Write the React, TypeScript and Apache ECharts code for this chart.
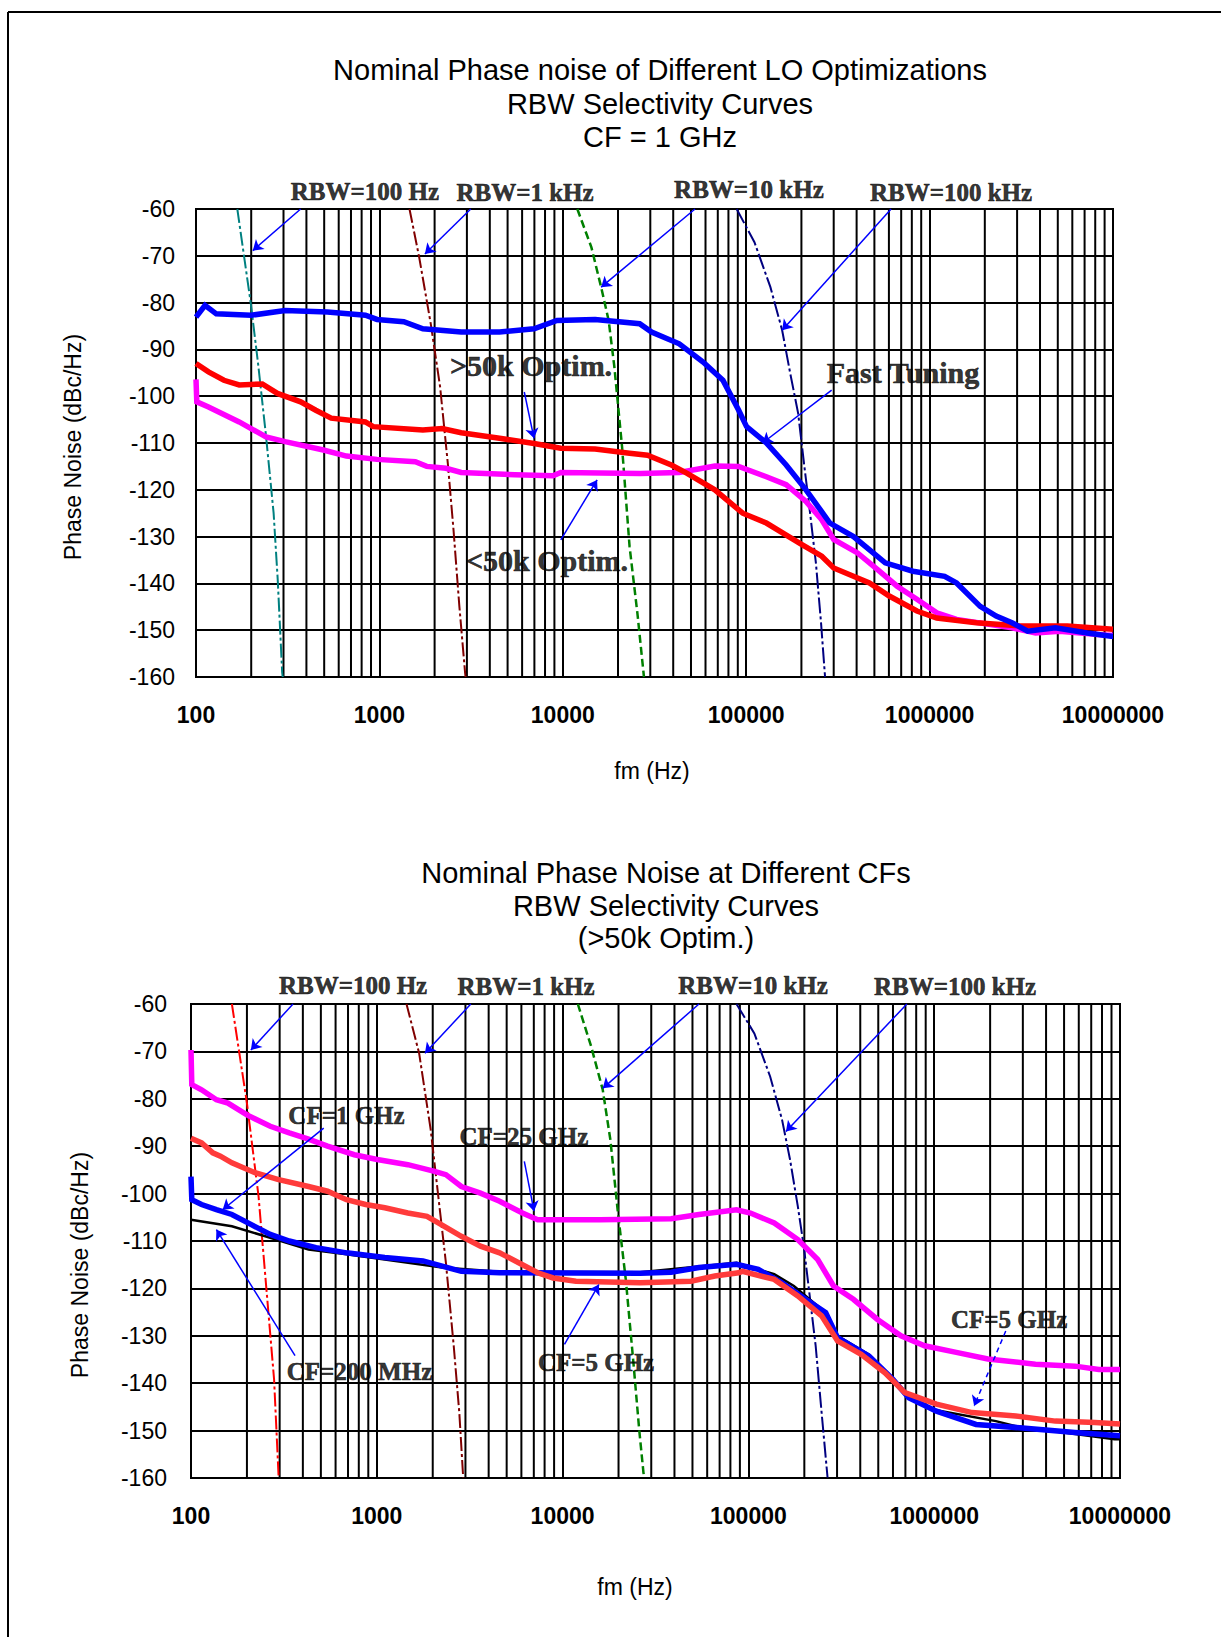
import React, { useEffect, useRef } from "react";
import * as echarts from "echarts";

// ---------- axes ----------
const xTickLabels = ["100", "1000", "10000", "100000", "1000000", "10000000"];
const xMin = 100;
const xMax = 10000000;
const yMin = -160;
const yMax = -60;
const yStep = 10;
const minorMultipliers = [2, 3, 4, 5, 6, 7, 8, 9];
const decades = [100, 1000, 10000, 100000, 1000000];

// ---------- top chart: LO optimizations (CF = 1 GHz) ----------
const topFastTuning: [number, number][] = [
  [100, -83.1], [112, -80.6], [129, -82.4], [200, -82.7], [306, -81.7], [520, -82], [839, -82.7],
  [971, -83.6], [1358, -84.1], [1726, -85.6], [2793, -86.3], [4519, -86.3], [6966, -85.6],
  [9290, -83.8], [15000, -83.6], [26242, -84.5], [30479, -86.3], [43152, -88.8], [58210, -92.7],
  [74645, -96.6], [90991, -103], [100462, -106.5], [128825, -110], [165196, -114.7], [211836, -120],
  [285759, -127.1], [384592, -130], [572796, -135.6], [810961, -137.4], [1207814, -138.5],
  [1402813, -139.9], [1887991, -144.9], [2306747, -147], [2812000, -148.4], [3427678, -150.2],
  [4853000, -149.5], [7227000, -150.6], [9750000, -151.3], [10000000, -151.3],
];
const topAbove50k: [number, number][] = [
  [100, -93], [117, -94.8], [142, -96.6], [172, -97.6], [230, -97.4], [278, -99.4], [372, -101.2],
  [450, -103], [546, -104.7], [839, -105.5], [925, -106.5], [1726, -107.2], [2198, -106.9],
  [2793, -107.8], [4519, -109], [6966, -110.1], [9750, -111.1], [15000, -111.3], [23121, -112.2],
  [28973, -112.6], [39084, -114.7], [47643, -116.5], [67453, -120], [95719, -125], [128825, -127.1],
  [201372, -131.7], [258226, -134.2], [299916, -136.7], [469894, -139.9], [602560, -142.7],
  [853067, -145.9], [1093956, -147.4], [1798871, -148.4], [3104560, -149.1], [5636000, -149.1],
  [10000000, -149.8],
];
const topBelow50k: [number, number][] = [
  [100, -96.4], [101, -101.2], [117, -102.3], [172, -105.5], [241, -108.7], [306, -109.7],
  [495, -111.5], [661, -112.8], [971, -113.5], [1570, -114], [1811, -115], [2307, -115.4],
  [2793, -116.3], [5470, -116.8], [8851, -117], [9750, -116.3], [26485, -116.5], [43152, -116.3],
  [67453, -114.9], [90991, -115], [128825, -117.2], [165196, -118.9], [211836, -122.5],
  [258226, -126.4], [299916, -130.6], [404576, -133.5], [518800, -137], [665273, -140.6],
  [853067, -143.4], [1093956, -146.3], [1402813, -147.7], [2812000, -149.5], [3784000, -150.6],
  [5105000, -150.2], [9268000, -151.1], [10000000, -151.1],
];
const topRbw100Hz: [number, number][] = [
  [168, -60], [199, -80.2], [219, -93.7], [241, -108.6], [265, -125], [279, -139.2], [295, -159], [297, -160],
];
const topRbw1k: [number, number][] = [
  [1459, -60], [1648, -70.3], [1905, -84.5], [2143, -98], [2360, -114.3], [2535, -128.5],
  [2729, -144.9], [2931, -159], [2950, -160],
];
const topRbw10k: [number, number][] = [
  [12000, -60], [14322, -68.2], [16181, -76.7], [17783, -83.8], [19099, -93.7], [21038, -110.8],
  [23121, -132.1], [25500, -146.3], [27700, -160],
];
const topRbw100k: [number, number][] = [
  [88716, -60], [110917, -67.1], [135519, -76.7], [157036, -85.9], [173780, -95.1], [191867, -103.6],
  [206538, -114.3], [222844, -124.9], [239883, -135.6], [255859, -148.4], [269153, -160],
];
const topLabelTexts = ["RBW=100 Hz", "RBW=1 kHz", "RBW=10 kHz", "RBW=100 kHz", ">50k Optim.", "Fast Tuning", "<50k Optim."];
const topLabelFreqs = [834, 6223, 103514, 1309182, 6714, 716143, 8204];
const topLabelValues = [-56.2, -56.4, -55.9, -56.4, -93.5, -95.0, -135.2];
const topLabelSizes = [25, 25, 25, 25, 30, 30, 30];
// [fromFreq, fromValue, toFreq, toValue]
const topArrows: number[][] = [
  [372, -60, 204, -68.9],
  [3148, -60, 1770, -69.6],
  [52602, -60, 16181, -76.7],
  [616595, -60, 157036, -85.9],
  [292415, -98.7, 122744, -110],
  [6166, -99.1, 6966, -109],
  [9750, -130.7, 15382, -117.9],
];

// ---------- bottom chart: different CFs (>50k Optim.) ----------
const botCf25G: [number, number][] = [
  [100, -69.7], [101, -77], [114, -78.1], [137, -80.2], [158, -80.9], [200, -83.4], [267, -85.8],
  [338, -87.2], [429, -88.5], [543, -90], [757, -91.8], [1005, -92.8], [1469, -93.9], [2046, -95.3],
  [2355, -96], [2851, -98.5], [3614, -99.9], [4581, -101.6], [6081, -104.1], [7345, -105.5],
  [15849, -105.5], [38371, -105.3], [54200, -104.4], [86298, -103.4], [102565, -104.1],
  [137721, -106.2], [184502, -109.7], [236048, -113.9], [287078, -119.5], [367282, -122.3],
  [493174, -126.5], [662217, -130], [887156, -132.1], [1315225, -133.5], [1945297, -134.9],
  [3507519, -136], [5727000, -136.4], [7691000, -137.1], [10000000, -137.1],
];
const botCf5G: [number, number][] = [
  [100, -88.3], [114, -89.3], [131, -91.4], [144, -92.1], [166, -93.5], [221, -95.6], [293, -97],
  [429, -98.5], [543, -99.5], [687, -101.3], [871, -102.3], [1104, -103], [1469, -104.1],
  [1862, -104.8], [2143, -106.2], [2851, -109], [3614, -111.1], [4581, -112.5], [6081, -115],
  [7345, -116.7], [8892, -117.8], [11803, -118.5], [26182, -118.8], [49091, -118.5], [65917, -117.4],
  [88512, -116.7], [92897, -116.4], [137721, -118.1], [184502, -121.6], [247742, -125.8],
  [301995, -131.1], [404576, -133.9], [543250, -137.8], [695024, -142], [1028016, -144.4],
  [1599558, -146.2], [2747894, -146.9], [4487454, -148], [7328000, -148.3], [10000000, -148.6],
];
const botCf1G: [number, number][] = [
  [100, -96.4], [101, -101.3], [114, -102.3], [137, -103.4], [166, -104.4], [210, -106.5],
  [267, -108.6], [338, -110], [471, -111.4], [687, -112.5], [1104, -113.5], [1774, -114.2],
  [2249, -115.3], [2851, -116.4], [4581, -116.7], [26182, -116.8], [38371, -116.6], [54200, -115.6],
  [86298, -114.9], [112980, -116], [151705, -118.8], [203704, -122.3], [260615, -125.1],
  [301995, -130.4], [446684, -134.3], [599791, -139.2], [729458, -143.1], [1028016, -145.9],
  [1678804, -148.7], [2884032, -149.4], [5727000, -150.4], [10000000, -151.1],
];
const botCf200M: [number, number][] = [
  [100, -105.5], [166, -106.9], [267, -109.3], [429, -111.8], [687, -112.8], [1104, -113.9],
  [2249, -115.6], [4581, -116.5], [26182, -116.6], [86298, -114.6], [137721, -117], [175792, -119.5],
  [247742, -124.4], [301995, -130], [446684, -134], [599791, -139], [729458, -143], [1028016, -145.7],
  [2147830, -148], [2747894, -149.1], [5727000, -150.7], [9354000, -151.8], [10000000, -151.8],
];
const botRbw100Hz: [number, number][] = [
  [166, -60], [200, -80.9], [231, -100.6], [261, -125.1], [280, -139.2], [296, -159.5], [297, -160],
];
const botRbw1k: [number, number][] = [
  [1445, -60], [1690, -70.4], [1950, -86.5], [2143, -100.6], [2355, -114.6], [2594, -132.1],
  [2780, -146.2], [2917, -159.9],
];
const botRbw10k: [number, number][] = [
  [12078, -60], [14256, -69], [16444, -78.1], [18072, -88.6], [19861, -104.1], [21878, -118.1],
  [24044, -135.6], [25823, -149.7], [27227, -158.8], [27500, -160],
];
const botRbw100k: [number, number][] = [
  [86298, -60], [107647, -66.2], [130918, -75.3], [151705, -84.4], [167494, -92.8], [184502, -102.7],
  [198609, -111.1], [213796, -121.6], [230144, -132.1], [247742, -146.2], [266686, -159.9],
];
const botLabelTexts = ["RBW=100 Hz", "RBW=1 kHz", "RBW=10 kHz", "RBW=100 kHz", "CF=1 GHz", "CF=25 GHz", "CF=200 MHz", "CF=5 GHz", "CF=5 GHz"];
const botLabelFreqs = [745, 6353, 105925, 1294196, 687, 6194, 807, 15136, 2529297];
const botLabelValues = [-56.0, -56.4, -56.0, -56.4, -83.5, -88.0, -137.6, -135.7, -126.5];
const botLabelSizes = [25, 25, 25, 25, 25, 25, 25, 25, 25];
const botArrows: number[][] = [
  [354, -60, 210, -69.7],
  [3206, -60, 1816, -70.4],
  [54200, -60, 16444, -77.8],
  [712853, -60, 159221, -86.9],
  [518, -86.2, 148, -103.4],
  [6223, -93.2, 7015, -103.7],
  [363, -134.2, 137, -107.6],
  [10233, -131.8, 15668, -119.2],
  [2426610, -129, 1640590, -144.8],
];
const botDashedArrow = [false, false, false, false, false, false, false, false, true];

// ---------- helpers ----------
const SANS = '"Liberation Sans", Arial, sans-serif';
const SERIF = '"Liberation Serif", "Times New Roman", serif';

function curve(data: [number, number][], color: string, width: number, type: any, gi: number, z: number) {
  return {
    type: "line",
    xAxisIndex: gi,
    yAxisIndex: gi,
    data,
    symbol: "none",
    showSymbol: false,
    silent: true,
    z,
    lineStyle: { color, width, type, cap: "butt", join: "miter" },
    itemStyle: { color },
  };
}

function minorGridSeries(gi: number) {
  const out: any[] = [];
  decades.forEach((d) => {
    minorMultipliers.forEach((m) => {
      out.push({
        type: "line",
        xAxisIndex: gi,
        yAxisIndex: gi,
        data: [
          [d * m, yMin],
          [d * m, yMax],
        ],
        symbol: "none",
        silent: true,
        z: 1,
        lineStyle: { color: "#000", width: 2 },
      });
    });
  });
  return out;
}

function annotationSeries(
  gi: number,
  texts: string[],
  freqs: number[],
  values: number[],
  sizes: number[],
  arrows: number[][],
  dashed?: boolean[]
) {
  return {
    type: "scatter",
    xAxisIndex: gi,
    yAxisIndex: gi,
    clip: false,
    silent: true,
    z: 6,
    symbolSize: 1,
    itemStyle: { color: "rgba(0,0,0,0)" },
    label: {
      show: true,
      position: "inside",
      formatter: "{b}",
      fontFamily: SERIF,
      fontWeight: "bold",
      color: "#000",
      textBorderColor: "#000",
      textBorderWidth: 0.6,
      fontSize: 25,
    },
    data: texts.map((t, i) => ({
      name: t,
      value: [freqs[i], values[i]],
      label: { fontSize: sizes[i] },
    })),
    markLine: {
      silent: true,
      animation: false,
      symbol: ["none", "arrow"],
      symbolSize: 10,
      label: { show: false },
      lineStyle: { color: "#0000ff", width: 1.5, type: "solid" },
      data: arrows.map((a, i) => [
        {
          coord: [a[0], a[1]],
          lineStyle: { type: dashed && dashed[i] ? [5, 4] : "solid", color: "#0000ff", width: 1.5 },
        },
        { coord: [a[2], a[3]] },
      ]),
    },
  };
}

function xAxisFor(gi: number) {
  return {
    type: "log",
    logBase: 10,
    gridIndex: gi,
    min: xMin,
    max: xMax,
    splitNumber: 5,
    axisLine: { show: false },
    axisTick: { show: false },
    splitLine: { show: true, lineStyle: { color: "#000", width: 2 } },
    axisLabel: {
      margin: 26,
      fontFamily: SANS,
      fontWeight: "bold",
      fontSize: 23,
      color: "#000",
      showMinLabel: true,
      showMaxLabel: true,
      formatter: (v: number) => {
        const idx = Math.round(Math.log10(v)) - 2;
        return xTickLabels[idx] ?? "";
      },
    },
  };
}

function yAxisFor(gi: number, margin: number) {
  return {
    type: "value",
    gridIndex: gi,
    min: yMin,
    max: yMax,
    interval: yStep,
    axisLine: { show: false },
    axisTick: { show: false },
    splitLine: { show: true, lineStyle: { color: "#000", width: 2 } },
    axisLabel: {
      margin,
      fontFamily: SANS,
      fontSize: 23,
      color: "#000",
    },
  };
}

function textEl(text: string, x: number, y: number, size: number, rotation = 0) {
  return {
    type: "text",
    x,
    y,
    rotation,
    silent: true,
    style: {
      text,
      fill: "#000",
      font: `${size}px ${SANS}`,
      textAlign: "center",
      textVerticalAlign: "middle",
    },
  };
}

function buildOption() {
  return {
    animation: false,
    backgroundColor: "#ffffff",
    grid: [
      { left: 196, top: 209, width: 917, height: 468, show: true, borderColor: "#000", borderWidth: 2, backgroundColor: "#fff" },
      { left: 191, top: 1004, width: 929, height: 474, show: true, borderColor: "#000", borderWidth: 2, backgroundColor: "#fff" },
    ],
    xAxis: [xAxisFor(0), xAxisFor(1)],
    yAxis: [yAxisFor(0, 21), yAxisFor(1, 24)],
    graphic: [
      { type: "line", silent: true, shape: { x1: 8, y1: 12, x2: 1221, y2: 12 }, style: { stroke: "#000", lineWidth: 2 } },
      { type: "line", silent: true, shape: { x1: 8, y1: 12, x2: 8, y2: 1637 }, style: { stroke: "#000", lineWidth: 2 } },
      textEl("Nominal Phase noise of Different LO Optimizations", 660, 70, 29),
      textEl("RBW Selectivity Curves", 660, 104, 29),
      textEl("CF = 1 GHz", 660, 137, 29),
      textEl("Nominal Phase Noise at Different CFs", 666, 873, 29),
      textEl("RBW Selectivity Curves", 666, 906, 29),
      textEl("(>50k Optim.)", 666, 938, 29),
      textEl("Phase Noise (dBc/Hz)", 73, 447, 23, Math.PI / 2),
      textEl("Phase Noise (dBc/Hz)", 80, 1265, 23, Math.PI / 2),
      textEl("fm (Hz)", 652, 771, 23),
      textEl("fm (Hz)", 635, 1587, 23),
    ],
    series: [
      ...minorGridSeries(0),
      ...minorGridSeries(1),
      // top chart selectivity curves
      curve(topRbw100Hz, "#008080", 2, [14, 3, 3, 3], 0, 2),
      curve(topRbw1k, "#800000", 2, [14, 3, 3, 3], 0, 2),
      curve(topRbw10k, "#008000", 2.5, [8, 4], 0, 2),
      curve(topRbw100k, "#000080", 2, [16, 3, 3, 3], 0, 2),
      // top chart phase noise curves
      curve(topBelow50k, "#ff00ff", 5.5, "solid", 0, 3),
      curve(topAbove50k, "#ff0000", 5.5, "solid", 0, 3),
      curve(topFastTuning, "#0000ff", 5.5, "solid", 0, 3),
      annotationSeries(0, topLabelTexts, topLabelFreqs, topLabelValues, topLabelSizes, topArrows),
      // bottom chart selectivity curves
      curve(botRbw100Hz, "#ff0000", 2, [14, 3, 3, 3], 1, 2),
      curve(botRbw1k, "#800000", 2, [14, 3, 3, 3], 1, 2),
      curve(botRbw10k, "#008000", 2.5, [8, 4], 1, 2),
      curve(botRbw100k, "#000080", 2, [16, 3, 3, 3], 1, 2),
      // bottom chart phase noise curves
      curve(botCf200M, "#000000", 2.5, "solid", 1, 3),
      curve(botCf1G, "#0000ff", 5.5, "solid", 1, 3),
      curve(botCf5G, "#ff3b3b", 5.5, "solid", 1, 3),
      curve(botCf25G, "#ff00ff", 5.5, "solid", 1, 3),
      annotationSeries(1, botLabelTexts, botLabelFreqs, botLabelValues, botLabelSizes, botArrows, botDashedArrow),
    ],
  };
}

export default function App() {
  const ref = useRef<HTMLDivElement>(null);
  useEffect(() => {
    if (!ref.current) return;
    const chart = echarts.init(ref.current, null, { renderer: "svg" });
    chart.setOption(buildOption() as any);
    return () => {
      chart.dispose();
    };
  }, []);
  return (
    <div
      ref={ref}
      style={{ position: "absolute", left: 0, top: 0, width: 1221, height: 1637, background: "#fff" }}
    />
  );
}
